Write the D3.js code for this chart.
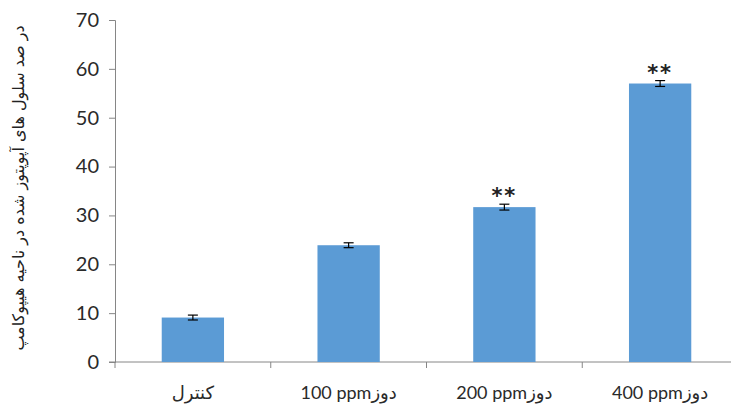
<!DOCTYPE html>
<html><head><meta charset="utf-8">
<script src="https://cdn.jsdelivr.net/npm/d3@7"></script>
<style>body{margin:0;background:#fff;}svg{display:block;}</style>
</head><body>
<svg id="c" width="731" height="408"></svg>
<script>
const categories = ["کنترل", "100 ppmدوز", "200 ppmدوز", "400 ppmدوز"];
const values = [9.1, 23.9, 31.7, 57.0];
const errors = [0.5, 0.5, 0.6, 0.6];
const marks = ["", "", "**", "**"];
const yTicks = [0, 10, 20, 30, 40, 50, 60, 70];
const yTitle = "در صد  سلول های آپوپتوز شده در ناحیه هیپوکامپ";

(function () {
const svg = d3.select("#c");
const mLeft = 115, mRight = 738, mTop = 20, mBottom = 362;
const x = d3.scaleBand().domain(categories).range([mLeft, mRight]).paddingInner(0.6).paddingOuter(0.3);
const xb = d3.scaleBand().domain(categories).range([mLeft, mRight]);
const y = d3.scaleLinear().domain([0, 70]).range([mBottom, mTop]);
const axisColor = "#868686";
const font = "Lato, 'DejaVu Sans', sans-serif";

// y axis
const ya = svg.append("g").attr("transform", `translate(${mLeft},0)`)
  .call(d3.axisLeft(y).tickValues(yTicks).tickSize(6).tickPadding(10));
ya.select(".domain").attr("stroke", axisColor);
ya.selectAll(".tick line").attr("stroke", axisColor);
ya.selectAll(".tick text").attr("fill", "#2a2a2a").style("font-family", font).style("font-size", "20px");

// x axis
const xa = svg.append("g").attr("transform", `translate(0,${mBottom})`);
xa.append("line").attr("x1", mLeft - 6).attr("x2", mRight).attr("y1", 0).attr("y2", 0).attr("stroke", axisColor);
xa.selectAll("line.t").data(categories.concat(["end"])).join("line").attr("class", "t")
  .attr("x1", (d, i) => mLeft + i * xb.bandwidth()).attr("x2", (d, i) => mLeft + i * xb.bandwidth())
  .attr("y1", 0).attr("y2", 6).attr("stroke", axisColor);
xa.selectAll("text").data(categories).join("text")
  .attr("x", d => xb(d) + xb.bandwidth() / 2).attr("y", 37)
  .attr("text-anchor", "middle")
  .attr("direction", "ltr")
  .style("font-family", font).style("font-size", "18px").attr("fill", "#2a2a2a")
  .text(d => d);

// bars
svg.selectAll("rect.bar").data(values).join("rect").attr("class", "bar")
  .attr("x", (d, i) => x(categories[i])).attr("width", x.bandwidth())
  .attr("y", d => y(d)).attr("height", d => mBottom - y(d))
  .attr("fill", "#5B9BD5");

// error bars
const eb = svg.append("g").attr("stroke", "#000").attr("stroke-width", 1.2);
values.forEach((v, i) => {
  const cx = x(categories[i]) + x.bandwidth() / 2;
  eb.append("line").attr("x1", cx).attr("x2", cx).attr("y1", y(v + errors[i])).attr("y2", y(v - errors[i]));
  eb.append("line").attr("x1", cx - 5).attr("x2", cx + 5).attr("y1", y(v + errors[i])).attr("y2", y(v + errors[i]));
  eb.append("line").attr("x1", cx - 5).attr("x2", cx + 5).attr("y1", y(v - errors[i])).attr("y2", y(v - errors[i]));
});

// significance marks
svg.selectAll("text.sig").data(values).join("text").attr("class", "sig")
  .attr("x", (d, i) => x(categories[i]) + x.bandwidth() / 2)
  .attr("y", (d, i) => y(d + errors[i]) - 1)
  .attr("text-anchor", "middle")
  .style("font-family", "'DejaVu Sans', sans-serif").style("font-size", "21px").style("font-weight", "bold")
  .style("letter-spacing", "2px").attr("fill", "#222")
  .text((d, i) => marks[i]);

// y title
svg.append("text")
  .attr("transform", "translate(24,188) rotate(-90)")
  .attr("text-anchor", "middle")
  .style("font-family", "'DejaVu Sans', sans-serif").style("font-size", "16px").attr("fill", "#222")
  .text(yTitle);
})();
</script>
</body></html>
